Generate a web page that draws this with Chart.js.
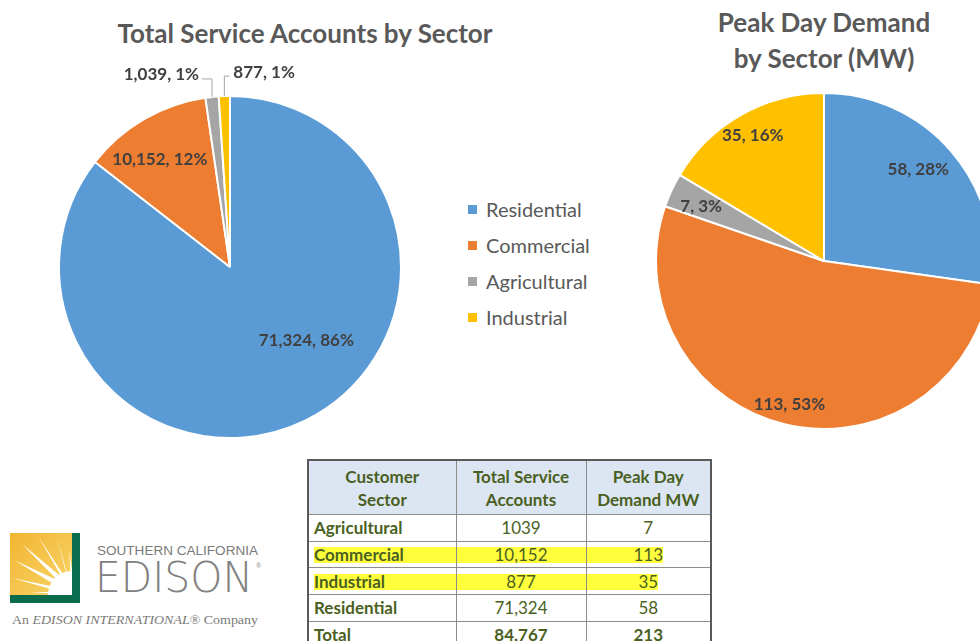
<!DOCTYPE html>
<html>
<head>
<meta charset="utf-8">
<script src="https://cdn.jsdelivr.net/npm/chart.js@4.4.0/dist/chart.umd.min.js"></script>
<style>
  body { margin: 0; width: 980px; height: 641px; overflow: hidden; position: relative; background: #fff; font-family: Lato, "Open Sans", sans-serif; }
  .abs { position: absolute; }
  .title { color: #595959; font-weight: bold; font-size: 26px; text-align: center; line-height: 36px; }
  #legend div { position: absolute; left: 0; font-size: 20px; color: #595959; white-space: nowrap; }
  #legend span { display: inline-block; width: 9px; height: 9px; margin-right: 9px; vertical-align: 3px; }
  #tbl { border-collapse: collapse; table-layout: fixed; position: relative; z-index: 2; }
  #tbl td { border: 1px solid #8c8c8c; color: #4a5f22; font-size: 17px; height: 25.7px; padding: 0 5px; text-align: center; white-space: nowrap; }
  #tbl tr.head td { background: #dce6f2; font-weight: bold; height: 53px; line-height: 23px; }
  #tbl td.first { text-align: left; font-weight: bold; }
  .hl { position: absolute; background: #ffff3c; z-index: 1; }
</style>
</head>
<body>
<div class="abs title" style="left:55px; top:15px; width:500px;">Total Service Accounts by Sector</div>
<div class="abs title" style="left:674px; top:4px; width:300px;">Peak Day Demand<br>by Sector (MW)</div>

<canvas id="accountsChart" class="abs" style="left:0; top:0;" width="460" height="450"></canvas>
<canvas id="demandChart" class="abs" style="left:640px; top:0;" width="340" height="450"></canvas>

<div id="legend" class="abs" style="left:468px; top:197px;"></div>

<div id="tableWrap" class="abs" style="left:307px; top:459px;">
  <table id="tbl" style="border:2px solid #595959;">
    <colgroup><col style="width:148px"><col style="width:130px"><col style="width:125px"></colgroup>
  </table>
</div>

<svg class="abs" style="left:0; top:520px;" width="290" height="121">
  <defs>
    <linearGradient id="sun" x1="0" y1="0" x2="1" y2="1">
      <stop offset="0" stop-color="#f2b531"/>
      <stop offset="1" stop-color="#f8d56a"/>
    </linearGradient>
  </defs>
  <rect x="10" y="13" width="70" height="70" fill="#0b6b4d"/>
  <rect x="10" y="13" width="62" height="62" fill="url(#sun)"/>
  <g fill="#fff">
    <path d="M72 75 L14 40 L72 67 Z"/>
    <path d="M72 75 L22 24 L70 64 Z"/>
    <path d="M72 75 L38 16 L68 62 Z"/>
    <path d="M72 75 L56 15 L69 60 Z"/>
    <path d="M72 75 L12 58 L70 70 Z"/>
    <path d="M72 75 L30 72 L72 72 Z"/>
    <path d="M72 75 L69 30 L72 50 Z"/>
    <path d="M72 75 L48 75 A24 24 0 0 1 72 51 Z"/>
  </g>
  <text x="97" y="35" font-family="Liberation Sans, sans-serif" font-size="12" fill="#7a7a7a" textLength="161" lengthAdjust="spacingAndGlyphs">SOUTHERN CALIFORNIA</text>
  <text x="95" y="72" font-family="DejaVu Sans, sans-serif" font-weight="200" font-size="42" fill="#808080" textLength="158" lengthAdjust="spacingAndGlyphs">EDISON</text>
  <text x="256" y="48" font-family="Liberation Sans, sans-serif" font-size="7" fill="#8a8a8a">®</text>
  <text x="12" y="104" font-family="Liberation Serif, serif" font-size="12.5" fill="#7a7a7a" textLength="246" lengthAdjust="spacingAndGlyphs">An <tspan font-style="italic">EDISON INTERNATIONAL</tspan>® Company</text>
</svg>

<script>
// chart data (pie order as in the slides)
const sectors = ['Residential', 'Commercial', 'Agricultural', 'Industrial'];
const accounts = [71324, 10152, 1039, 877];
const accountPct = [86, 12, 1, 1];
const demandMW = [58, 113, 7, 35];
const demandPct = [28, 53, 3, 16];

// table data
const tableSectors = ['Agricultural', 'Commercial', 'Industrial', 'Residential'];
const tableAccounts = ['1039', '10,152', '877', '71,324'];
const tableDemand = ['7', '113', '35', '58'];
const totalAccounts = '84,767';
const totalDemand = '213';
const highlighted = ['Commercial', 'Industrial'];

const sectorColors = ['#5b9bd5', '#ed7d31', '#a5a5a5', '#ffc000'];

// "value, pct%" labels on or beside each slice
function sliceLabels(values, pct, place) {
    return {
        id: 'sliceLabels',
        afterDraw(chart) {
            const ctx = chart.ctx;
            const meta = chart.getDatasetMeta(0);
            ctx.save();
            ctx.font = 'bold 17px Lato';
            ctx.fillStyle = '#404040';
            ctx.strokeStyle = '#a6a6a6';
            ctx.lineWidth = 1;
            ctx.textBaseline = 'middle';
            meta.data.forEach((arc, i) => {
                const p = place[i];
                const a = arc.getProps(['x', 'y', 'startAngle', 'endAngle', 'outerRadius'], true);
                const mid = (a.startAngle + a.endAngle) / 2 + (p.shift || 0) * Math.PI / 180;
                const text = values[i].toLocaleString('en-US') + ', ' + pct[i] + '%';
                if (p.out) {
                    const ex = a.x + Math.cos(mid) * a.outerRadius;
                    const ey = a.y + Math.sin(mid) * a.outerRadius;
                    const ly = ey + p.dy, lx = ex + p.dx;
                    ctx.beginPath();
                    ctx.moveTo(ex, ey);
                    ctx.lineTo(ex, ly);
                    ctx.lineTo(lx, ly);
                    ctx.stroke();
                    ctx.textAlign = p.dx < 0 ? 'right' : 'left';
                    ctx.fillText(text, lx + (p.dx < 0 ? -3 : 4), ly - 4);
                } else {
                    const r = a.outerRadius * p.r;
                    ctx.textAlign = 'center';
                    ctx.fillText(text, a.x + Math.cos(mid) * r, a.y + Math.sin(mid) * r);
                }
            });
            ctx.restore();
        }
    };
}

function pieChart(id, values, pct, radius, padding, place) {
    new Chart(document.getElementById(id), {
        type: 'pie',
        data: {
            labels: sectors,
            datasets: [{
                data: values,
                backgroundColor: sectorColors,
                borderColor: '#ffffff',
                borderWidth: 2,
                radius: radius,
                clip: false
            }]
        },
        options: {
            responsive: false,
            animation: false,
            devicePixelRatio: 1,
            layout: { padding: padding },
            plugins: {
                legend: { display: false },
                tooltip: { enabled: false }
            }
        },
        plugins: [sliceLabels(values, pct, place)]
    });
}

pieChart('accountsChart', accounts, accountPct, 171, { top: 84 }, [
    { r: 0.62, shift: -20 },
    { r: 0.75, shift: -3 },
    { out: true, dy: -18, dx: -10 },
    { out: true, dy: -20, dx: 5 }
]);

pieChart('demandChart', demandMW, demandPct, 168, { top: 72, left: 28 }, [
    { r: 0.78, shift: -3 },
    { r: 0.88, shift: 0 },
    { r: 0.80, shift: -1 },
    { r: 0.86, shift: 0 }
]);

// legend
const legend = document.getElementById('legend');
sectors.forEach((s, i) => {
    const d = document.createElement('div');
    d.style.top = (i * 36) + 'px';
    d.innerHTML = '<span style="background:' + sectorColors[i] + '"></span>' + s;
    legend.appendChild(d);
});

// table
const tbl = document.getElementById('tbl');
function addRow(cells, cls) {
    const tr = document.createElement('tr');
    if (cls) tr.className = cls;
    cells.forEach((c, j) => {
        const td = document.createElement('td');
        if (j === 0 && cls !== 'head') td.className = 'first';
        td.innerHTML = '<span>' + c + '</span>';
        tr.appendChild(td);
    });
    tbl.appendChild(tr);
    return tr;
}
addRow(['Customer<br>Sector', 'Total Service<br>Accounts', 'Peak Day<br>Demand MW'], 'head');
tableSectors.forEach((s, i) => {
    const tr = addRow([s, tableAccounts[i], tableDemand[i]]);
    if (highlighted.includes(s)) tr.dataset.hl = '1';
});
const totalRow = addRow(['Total', totalAccounts, totalDemand]);
totalRow.querySelectorAll('td').forEach(td => td.style.fontWeight = 'bold');

// yellow text highlight across the highlighted rows
const wrap = document.getElementById('tableWrap');
const base = wrap.getBoundingClientRect();
tbl.querySelectorAll('tr[data-hl]').forEach(tr => {
    const spans = tr.querySelectorAll('span');
    const a = spans[0].getBoundingClientRect();
    const b = spans[2].getBoundingClientRect();
    const row = tr.getBoundingClientRect();
    const h = document.createElement('div');
    h.className = 'hl';
    h.style.left = (a.left - base.left) + 'px';
    h.style.width = (b.right - a.left) + 'px';
    h.style.top = (row.top - base.top + 6) + 'px';
    h.style.height = '16px';
    wrap.appendChild(h);
});
</script>
</body>
</html>
